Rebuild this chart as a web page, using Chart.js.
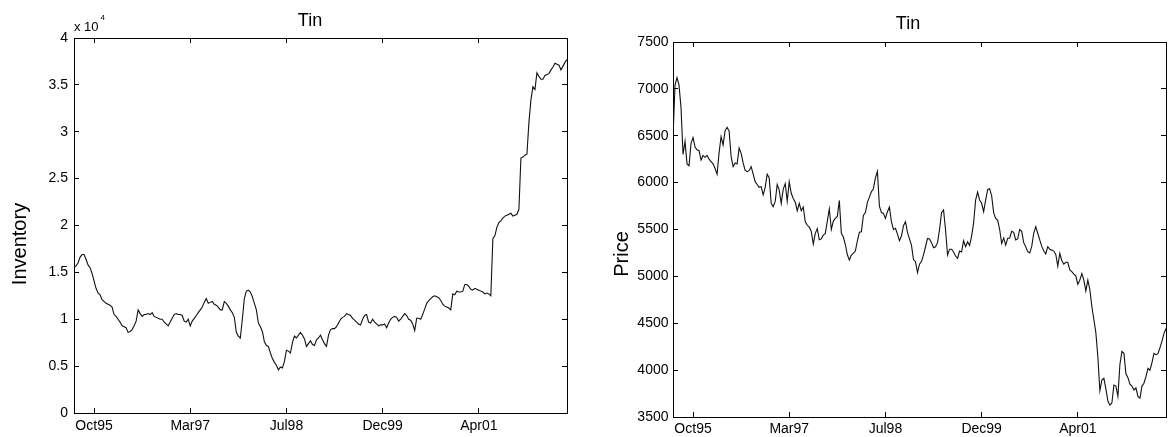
<!DOCTYPE html>
<html>
<head>
<meta charset="utf-8">
<title>Tin</title>
<script src="https://cdn.jsdelivr.net/npm/chart.js@4.4.0/dist/chart.umd.min.js"></script>
<style>
  html, body { margin: 0; padding: 0; background: #fff; }
  body { width: 1173px; height: 437px; position: relative; overflow: hidden; }
  canvas { position: absolute; top: 0; }
  #inv { left: 0; }
  #prc { left: 590px; }
</style>
</head>
<body>
<canvas id="inv" width="590" height="437"></canvas>
<canvas id="prc" width="583" height="437"></canvas>
<script>
// Time axis: sampling periods 0..246, with a date label at five of them
const lastPeriod = 246;
const tickLabels = ['Oct95', 'Mar97', 'Jul98', 'Dec99', 'Apr01'];
const tickPeriods = [10, 58, 106, 154, 202];

// Tin inventory (tonnes), one value per period
const inventory = [
  15500, 15700, 16000, 16600, 16900, 16900, 16400, 15800, 15500, 14900,
  14100, 13300, 12800, 12600, 12100, 11900, 11700, 11600, 11500, 11300,
  10500, 10300, 10000, 9700, 9300, 9200, 9100, 8600, 8700, 8900,
  9300, 9800, 11000, 10600, 10300, 10500, 10500, 10600, 10500, 10700,
  10300, 10200, 10100, 10000, 10000, 9700, 9500, 9300, 9700, 10100,
  10500, 10600, 10500, 10500, 10400, 9800, 9700, 10000, 9300, 9800,
  10100, 10400, 10700, 11000, 11300, 11800, 12200, 11700, 11800, 11900,
  11600, 11500, 11300, 11000, 11000, 11900, 11700, 11400, 11000, 10700,
  10200, 8600, 8200, 8000, 10000, 12200, 13000, 13100, 12900, 12400,
  11700, 11000, 9600, 9200, 8700, 7600, 7200, 7100, 6400, 5800,
  5400, 5100, 4600, 4900, 4800, 5500, 6700, 6600, 6400, 7500,
  8200, 8000, 8300, 8600, 8300, 7900, 7100, 7400, 7700, 7300,
  7200, 7800, 8000, 8300, 7800, 7400, 7100, 8300, 8900, 9000,
  9000, 9200, 9600, 10000, 10200, 10300, 10600, 10500, 10400, 10100,
  9900, 9700, 9500, 9400, 10000, 10400, 10500, 9700, 9600, 10000,
  9700, 9500, 9300, 9400, 9400, 9500, 9100, 9600, 10000, 10200,
  10300, 10200, 9800, 10000, 10300, 10600, 10400, 10000, 9900, 9500,
  8800, 10100, 10100, 10000, 10500, 11100, 11700, 12000, 12200, 12400,
  12500, 12400, 12300, 12000, 11600, 11400, 11300, 11200, 11000, 12700,
  12600, 13000, 12900, 12900, 13000, 13700, 13700, 13500, 13200, 13100,
  13300, 13200, 13100, 13000, 12900, 12700, 12800, 12700, 12500, 18600,
  18900, 19800, 20300, 20500, 20800, 21000, 21100, 21200, 21300, 21000,
  21100, 21200, 21700, 27200, 27300, 27500, 27600, 31000, 33400, 34800,
  34500, 36300, 35900, 35600, 35600, 36000, 36100, 36200, 36600, 36900,
  37300, 37200, 37100, 36600, 37000, 37400, 37700
];

// Tin price, one value per period
const price = [
  6480, 7040, 7120, 7040, 6800, 6300, 6440, 6200, 6180, 6419,
  6480, 6380, 6350, 6340, 6241, 6290, 6270, 6290, 6250, 6225,
  6200, 6150, 6090, 6320, 6490, 6400, 6555, 6590, 6550, 6277,
  6170, 6210, 6200, 6370, 6312, 6210, 6130, 6117, 6130, 6170,
  6090, 6010, 5980, 5950, 5957, 5870, 5950, 6090, 6050, 5779,
  5743, 5800, 5980, 5920, 5779, 5930, 5990, 5800, 6010, 5886,
  5830, 5790, 5700, 5779, 5700, 5740, 5583, 5545, 5525, 5480,
  5345, 5459, 5510, 5390, 5400, 5441, 5459, 5590, 5720, 5500,
  5590, 5619, 5640, 5810, 5459, 5420, 5340, 5230, 5175, 5228,
  5245, 5270, 5380, 5470, 5476, 5650, 5680, 5790, 5845, 5903,
  5935, 6050, 6120, 5750, 5680, 5672, 5619, 5690, 5740, 5580,
  5500, 5512, 5450, 5380, 5430, 5540, 5583, 5470, 5400, 5330,
  5180, 5156, 5040, 5130, 5160, 5230, 5316, 5405, 5400, 5360,
  5305, 5316, 5360, 5500, 5680, 5708, 5494, 5228, 5290, 5290,
  5260, 5217, 5192, 5270, 5260, 5380, 5316, 5370, 5330, 5430,
  5570, 5814, 5900, 5814, 5780, 5690, 5814, 5925, 5935, 5860,
  5680, 5619, 5600, 5500, 5350, 5410, 5334, 5405, 5410, 5480,
  5470, 5388, 5400, 5500, 5480, 5360, 5316, 5263, 5250, 5320,
  5460, 5530, 5460, 5390, 5320, 5270, 5240, 5317, 5288, 5280,
  5270, 5235, 5110, 5245, 5170, 5130, 5150, 5150, 5068, 5050,
  5025, 5005, 4915, 4960, 5030, 4960, 4845, 4960, 4860, 4680,
  4540, 4400, 4140, 3780, 3894, 3912, 3800, 3670, 3627, 3650,
  3840, 3830, 3720, 4060, 4200, 4179, 3960, 3920, 3850, 3830,
  3788, 3810, 3720, 3700, 3830, 3860, 3930, 4020, 4000, 4080,
  4179, 4165, 4175, 4240, 4310, 4392, 4445
];

const FONT = '"Liberation Sans", Arial, Helvetica, sans-serif';
const INK = '#000';

// Draws the chart title, the rotated y-axis label and an optional axis multiplier note
const annotate = {
  id: 'annotate',
  afterDraw(chart, args, o) {
    const { ctx, chartArea: a } = chart;
    ctx.save();
    ctx.fillStyle = INK;
    ctx.textAlign = 'center';
    ctx.textBaseline = 'alphabetic';
    ctx.font = `18px ${FONT}`;
    ctx.fillText(o.title, (a.left + a.right) / 2 + o.titleDx, a.top - o.titleGap);

    if (o.multiplier) {
      ctx.textAlign = 'left';
      ctx.font = `13px ${FONT}`;
      ctx.fillText(o.multiplier, a.left, a.top - 7);
      const w = ctx.measureText(o.multiplier).width;
      ctx.font = `8px ${FONT}`;
      ctx.fillText(o.exponent, a.left + w + 2, a.top - 18);
    }

    ctx.translate(o.yLabelX, (a.top + a.bottom) / 2 + o.yLabelDy);
    ctx.rotate(-Math.PI / 2);
    ctx.textAlign = 'center';
    ctx.textBaseline = 'middle';
    ctx.font = `20px ${FONT}`;
    ctx.fillText(o.yLabel, 0, 0);
    ctx.restore();
  }
};

// Boxed axes with inward tick marks on all four sides
function boxScales({ yMin, yMax, yStep, yFmt, yWidth, yPad, xHeight, xPad }) {
  const tickFont = { family: FONT, size: 14 };
  const grid = { drawOnChartArea: false, tickLength: -5, color: INK, lineWidth: 1 };
  const border = { display: true, color: INK, width: 1 };
  const timeTicks = s => { s.ticks = tickPeriods.map(v => ({ value: v })); };
  return {
    x: {
      type: 'linear', position: 'bottom', min: 0, max: lastPeriod,
      afterBuildTicks: timeTicks,
      afterFit: s => { s.height = xHeight; },
      ticks: { callback: (v, i) => tickLabels[i], font: tickFont, color: INK,
               padding: xPad, maxRotation: 0, autoSkip: false },
      grid, border
    },
    x2: {
      type: 'linear', position: 'top', min: 0, max: lastPeriod,
      afterBuildTicks: timeTicks,
      afterFit: s => { s.height = 0; },
      ticks: { display: false }, grid, border
    },
    y: {
      type: 'linear', position: 'left', min: yMin, max: yMax,
      afterFit: s => { s.width = yWidth; },
      ticks: { stepSize: yStep, callback: yFmt, font: tickFont, color: INK, padding: yPad },
      grid, border
    },
    y2: {
      type: 'linear', position: 'right', min: yMin, max: yMax,
      afterFit: s => { s.width = 0; },
      ticks: { stepSize: yStep, display: false }, grid, border
    }
  };
}

function lineChart(id, values, label, scales, padding, notes) {
  return new Chart(document.getElementById(id), {
    type: 'line',
    data: {
      datasets: [{
        label,
        data: values.map((v, i) => ({ x: i, y: v })),
        borderColor: '#111',
        borderWidth: 1.1,
        pointRadius: 0,
        tension: 0,
        fill: false
      }]
    },
    options: {
      responsive: false,
      animation: false,
      devicePixelRatio: 1,
      layout: { padding },
      scales,
      plugins: {
        legend: { display: false },
        tooltip: { enabled: false },
        title: { display: false },
        annotate: notes
      }
    },
    plugins: [annotate]
  });
}

lineChart('inv', inventory, 'Inventory',
  boxScales({ yMin: 0, yMax: 40000, yStep: 5000,
              yFmt: v => v / 10000, yWidth: 74, yPad: 11, xHeight: 24, xPad: 10 }),
  { left: 0, right: 23, top: 38, bottom: 0 },
  { title: 'Tin', titleDx: -10.5, titleGap: 12, yLabel: 'Inventory',
    yLabelX: 20, yLabelDy: 18.5, multiplier: 'x 10', exponent: '4' });

lineChart('prc', price, 'Price',
  boxScales({ yMin: 3500, yMax: 7500, yStep: 500,
              yFmt: v => String(v), yWidth: 83, yPad: 9.5, xHeight: 20, xPad: 9 }),
  { left: 0, right: 7, top: 42, bottom: 0 },
  { title: 'Tin', titleDx: -11.5, titleGap: 13, yLabel: 'Price',
    yLabelX: 32.5, yLabelDy: 24.5 });
</script>
</body>
</html>
